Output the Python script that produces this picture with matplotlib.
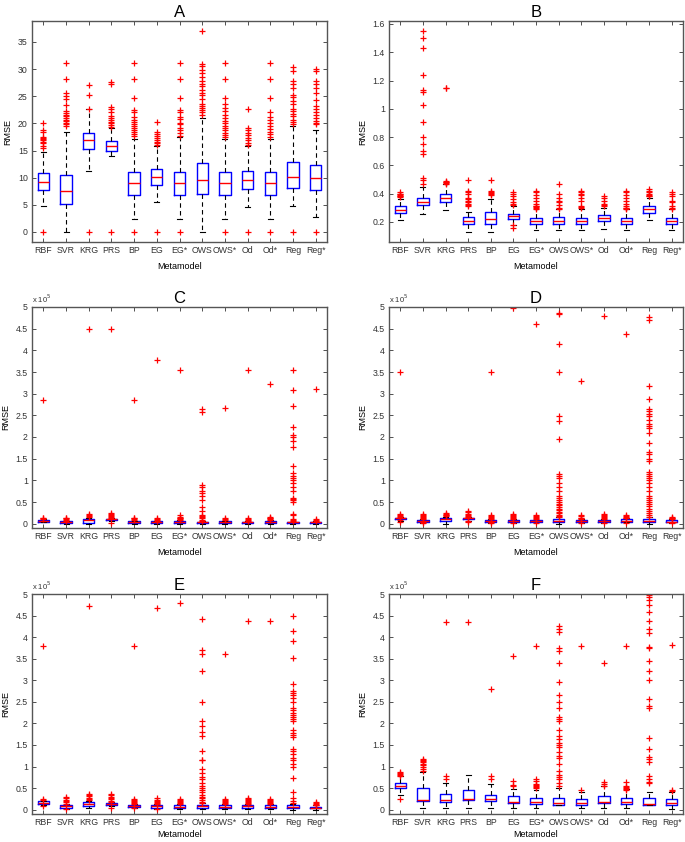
import matplotlib
matplotlib.use("Agg")
import matplotlib.pyplot as plt
from matplotlib.ticker import FuncFormatter

plt.rcParams['font.family'] = ['Liberation Sans', 'DejaVu Sans']

labels = ["RBF", "SVR", "KRG", "PRS", "BP", "EG", "EG*", "OWS", "OWS*", "Od", "Od*", "Reg", "Reg*"]

# ---- panel A ----
a_med = [9.14, 7.55, 16.9, 15.8, 8.96, 10.1, 8.96, 9.63, 8.96, 9.63, 8.96, 10.2, 9.94]
a_q1 = [7.67, 5.15, 15.2, 15.0, 6.75, 8.6, 6.75, 7.05, 6.87, 8.0, 6.75, 8.16, 7.7]
a_q3 = [10.86, 10.4, 18.2, 16.8, 11.0, 11.6, 11.1, 12.7, 11.05, 11.3, 11.0, 12.9, 12.3]
a_lo = [4.8, 0.0, 11.2, 13.9, 2.3, 5.6, 2.3, 0.0, 2.3, 4.6, 2.3, 4.8, 2.8]
a_hi = [14.8, 18.4, 22.6, 19.2, 17.2, 15.8, 17.5, 20.9, 17.2, 15.8, 17.2, 19.6, 18.7]
a_out = [
    [0, 15.4, 15.9, 16.3, 16.6, 16.9, 17.1, 17.3, 17.5, 18.4, 18.8, 20.1],
    [19.5, 19.8, 20.1, 20.4, 20.6, 21.0, 21.3, 21.5, 21.9, 22.2, 23.3, 24.4, 25.1, 25.5, 28.2, 31.1],
    [0, 22.7, 25.3, 27.1],
    [0, 19.4, 19.7, 20.0, 20.3, 20.6, 21.0, 21.4, 22.0, 22.6, 23.0, 27.3, 27.6],
    [0, 17.6, 18.0, 18.4, 18.8, 19.2, 19.6, 19.9, 20.3, 20.7, 21.2, 22.0, 22.4, 24.7, 28.2, 31.1],
    [0, 16.0, 16.3, 16.6, 17.0, 17.3, 17.6, 18.0, 18.5, 20.3],
    [0, 17.6, 18.3, 18.7, 19.2, 19.8, 20.1, 20.8, 21.2, 22.0, 22.4, 24.7, 28.2, 31.1],
    [21.5, 22.0, 22.4, 22.8, 23.2, 23.6, 24.4, 25.2, 25.6, 26.2, 26.8, 27.3, 27.8, 28.5, 29.2, 29.8, 30.5, 31.0, 37.0],
    [0, 17.5, 17.9, 18.3, 18.7, 19.1, 19.6, 20.0, 20.5, 21.0, 21.6, 22.2, 22.9, 23.6, 24.7, 28.2, 31.1],
    [0, 16.0, 16.4, 16.9, 17.3, 17.8, 18.2, 18.7, 19.2, 22.7],
    [0, 17.5, 18.0, 18.5, 19.0, 19.6, 20.0, 20.6, 21.2, 22.0, 24.7, 28.2, 31.1],
    [0, 19.9, 20.2, 20.6, 21.4, 21.8, 22.3, 22.7, 23.5, 24.2, 24.8, 25.3, 26.5, 27.3, 27.8, 29.6, 30.4],
    [0, 19.8, 20.1, 20.5, 21.0, 21.6, 22.0, 22.6, 23.2, 24.3, 25.5, 26.6, 27.3, 27.8, 29.6, 30.1],
]

# ---- panel B ----
b_med = [0.287, 0.341, 0.369, 0.209, 0.221, 0.24, 0.207, 0.207, 0.207, 0.226, 0.207, 0.289, 0.207]
b_q1 = [0.264, 0.318, 0.341, 0.186, 0.188, 0.221, 0.184, 0.184, 0.184, 0.205, 0.184, 0.266, 0.184]
b_q3 = [0.311, 0.369, 0.40, 0.235, 0.27, 0.259, 0.231, 0.235, 0.231, 0.247, 0.231, 0.313, 0.231]
b_lo = [0.212, 0.259, 0.282, 0.129, 0.129, 0.18, 0.141, 0.141, 0.141, 0.153, 0.141, 0.216, 0.141]
b_hi = [0.36, 0.447, 0.47, 0.27, 0.36, 0.31, 0.29, 0.29, 0.29, 0.30, 0.29, 0.37, 0.29]
b_out = [
    [0.375, 0.38, 0.385, 0.39, 0.395, 0.40, 0.41],
    [0.47, 0.50, 0.51, 0.68, 0.70, 0.75, 0.80, 0.91, 1.03, 1.12, 1.13, 1.24, 1.43, 1.50, 1.55],
    [0.47, 0.475, 0.48, 0.485, 0.49, 1.145, 1.15],
    [0.31, 0.32, 0.33, 0.34, 0.35, 0.36, 0.37, 0.40, 0.41, 0.42, 0.50],
    [0.39, 0.40, 0.405, 0.41, 0.42, 0.50],
    [0.16, 0.175, 0.32, 0.33, 0.34, 0.36, 0.38, 0.40, 0.41],
    [0.29, 0.30, 0.305, 0.31, 0.315, 0.33, 0.35, 0.37, 0.39, 0.41, 0.42],
    [0.29, 0.30, 0.32, 0.34, 0.35, 0.37, 0.40, 0.47],
    [0.30, 0.305, 0.31, 0.35, 0.37, 0.39, 0.40, 0.41, 0.42],
    [0.31, 0.32, 0.33, 0.35, 0.37, 0.38],
    [0.29, 0.295, 0.30, 0.31, 0.33, 0.35, 0.37, 0.39, 0.41, 0.42],
    [0.38, 0.385, 0.39, 0.40, 0.41, 0.42, 0.43],
    [0.29, 0.30, 0.31, 0.34, 0.35, 0.38, 0.40, 0.41],
]

# ---- panels C-F, values in units of 1e5 ----
SCALE = 1e5

c_med = [0.07, 0.04, 0.08, 0.10, 0.04, 0.04, 0.04, 0.03, 0.04, 0.03, 0.05, 0.03, 0.03]
c_q1 = [0.05, 0.02, 0.02, 0.08, 0.02, 0.02, 0.02, 0.02, 0.02, 0.02, 0.02, 0.02, 0.02]
c_q3 = [0.09, 0.06, 0.11, 0.11, 0.06, 0.06, 0.07, 0.05, 0.06, 0.05, 0.07, 0.05, 0.05]
c_lo = [0.03, 0.0, 0.0, 0.06, 0.0, 0.0, 0.0, 0.0, 0.0, 0.0, 0.0, 0.0, 0.0]
c_hi = [0.10, 0.07, 0.14, 0.13, 0.07, 0.07, 0.08, 0.06, 0.07, 0.06, 0.08, 0.05, 0.06]
c_out = [
    [0.10, 0.12, 0.13, 2.85],
    [0.07, 0.08, 0.10, 0.12, 0.14],
    [0.15, 0.18, 0.20, 0.22, 4.5],
    [0.02, 0.14, 0.16, 0.18, 0.20, 0.23, 0.25, 4.5],
    [0.08, 0.10, 0.12, 0.14, 2.85],
    [0.07, 0.09, 0.11, 0.13, 3.77],
    [0.08, 0.10, 0.12, 0.14, 0.16, 0.20, 3.55],
    [0.07, 0.09, 0.12, 0.15, 0.18, 0.20, 0.30, 0.38, 0.55, 0.65, 0.70, 0.75, 0.85, 0.90, 2.58, 2.65],
    [0.08, 0.10, 0.13, 2.68],
    [0.07, 0.09, 0.11, 0.13, 3.55],
    [0.08, 0.10, 0.12, 0.14, 0.16, 3.22],
    [0.06, 0.08, 0.10, 0.20, 0.22, 0.50, 0.55, 0.58, 0.60, 0.75, 0.85, 0.95, 1.00, 1.05, 1.10, 1.17,
     1.33, 1.77, 1.90, 2.00, 2.05, 2.22, 2.72, 3.08, 3.55],
    [0.06, 0.08, 0.10, 3.10],
]

d_med = [0.12, 0.07, 0.10, 0.12, 0.07, 0.06, 0.06, 0.07, 0.06, 0.06, 0.07, 0.06, 0.05]
d_q1 = [0.10, 0.05, 0.06, 0.10, 0.05, 0.04, 0.04, 0.03, 0.04, 0.04, 0.04, 0.03, 0.03]
d_q3 = [0.14, 0.09, 0.13, 0.14, 0.09, 0.09, 0.09, 0.11, 0.08, 0.09, 0.10, 0.10, 0.08]
d_lo = [0.06, 0.02, 0.0, 0.07, 0.02, 0.02, 0.02, 0.0, 0.02, 0.02, 0.03, 0.0, 0.02]
d_hi = [0.16, 0.11, 0.16, 0.16, 0.11, 0.11, 0.11, 0.15, 0.10, 0.11, 0.12, 0.15, 0.10]
d_out = [
    [0.05, 0.08, 0.16, 0.18, 0.20, 0.22, 3.5],
    [0.02, 0.04, 0.11, 0.13, 0.15, 0.17, 0.20, 0.22],
    [0.17, 0.19, 0.21, 0.23, 0.25],
    [0.03, 0.06, 0.16, 0.18, 0.20, 0.22, 0.26, 0.30],
    [0.02, 0.04, 0.11, 0.13, 0.15, 0.18, 0.20, 3.5],
    [0.02, 0.11, 0.13, 0.15, 0.17, 0.19, 0.22, 4.98],
    [0.02, 0.11, 0.13, 0.15, 0.18, 0.20, 4.6],
    [0.15, 0.18, 0.21, 0.25, 0.28, 0.31, 0.34, 0.38, 0.42, 0.46, 0.50, 0.55, 0.60, 0.65, 0.75, 0.85,
     0.95, 1.05, 1.10, 1.15, 1.95, 2.38, 2.48, 3.5, 4.15, 4.85, 4.87],
    [0.02, 0.10, 0.12, 0.14, 0.17, 0.20, 3.3],
    [0.02, 0.11, 0.13, 0.15, 0.17, 0.20, 0.22, 4.8],
    [0.02, 0.12, 0.14, 0.16, 0.18, 0.20, 4.37],
    [0.15, 0.20, 0.25, 0.30, 0.35, 0.40, 0.45, 0.50, 0.55, 0.60, 0.65, 0.75, 0.85, 0.95, 1.00, 1.05,
     1.10, 1.15, 1.20, 1.45, 1.50, 1.60, 1.65, 1.87, 2.10, 2.20, 2.25, 2.30, 2.40, 2.48, 2.52, 2.60,
     2.65, 2.88, 3.18, 4.70, 4.77],
    [0.02, 0.10, 0.12, 0.14, 0.16],
]

e_med = [0.16, 0.09, 0.13, 0.13, 0.09, 0.08, 0.07, 0.08, 0.07, 0.08, 0.07, 0.06, 0.05]
e_q1 = [0.13, 0.05, 0.08, 0.11, 0.06, 0.05, 0.05, 0.05, 0.05, 0.05, 0.05, 0.03, 0.03]
e_q3 = [0.19, 0.12, 0.17, 0.15, 0.11, 0.11, 0.10, 0.12, 0.10, 0.11, 0.10, 0.10, 0.07]
e_lo = [0.10, 0.02, 0.03, 0.08, 0.03, 0.02, 0.02, 0.02, 0.02, 0.02, 0.02, 0.0, 0.0]
e_hi = [0.21, 0.14, 0.21, 0.17, 0.13, 0.13, 0.13, 0.15, 0.13, 0.13, 0.13, 0.14, 0.10]
e_out = [
    [0.08, 0.22, 0.25, 3.8],
    [0.02, 0.14, 0.17, 0.20, 0.23, 0.27, 0.30],
    [0.22, 0.25, 0.28, 0.31, 0.34, 0.37, 4.73],
    [0.05, 0.18, 0.21, 0.24, 0.27, 0.30, 0.33, 0.37],
    [0.03, 0.14, 0.16, 0.18, 0.20, 0.22, 0.25, 3.8],
    [0.02, 0.14, 0.16, 0.18, 0.20, 0.23, 0.26, 4.68],
    [0.13, 0.15, 0.17, 0.20, 0.23, 0.25, 4.8],
    [0.15, 0.18, 0.22, 0.26, 0.30, 0.35, 0.40, 0.45, 0.50, 0.55, 0.62, 0.70, 0.75, 0.85, 0.95, 1.15,
     1.16, 1.35, 1.70, 1.80, 1.95, 2.05, 2.50, 3.22, 3.60, 3.70, 4.43],
    [0.13, 0.15, 0.18, 0.20, 0.23, 0.25, 3.62],
    [0.13, 0.15, 0.17, 0.20, 0.22, 0.25, 0.27, 4.38],
    [0.13, 0.15, 0.17, 0.20, 0.22, 0.25, 4.38],
    [0.15, 0.20, 0.27, 0.40, 0.74, 1.00, 1.05, 1.15, 1.20, 1.30, 1.35, 1.40, 1.68, 1.72, 1.78, 1.85,
     2.05, 2.10, 2.15, 2.20, 2.25, 2.30, 2.35, 2.50, 2.58, 2.65, 2.70, 2.75, 2.92, 3.52, 3.92, 4.15, 4.50],
    [0.10, 0.12, 0.14, 0.16, 0.18],
]

f_med = [0.554, 0.23, 0.23, 0.25, 0.25, 0.17, 0.17, 0.15, 0.15, 0.18, 0.17, 0.14, 0.15]
f_q1 = [0.50, 0.19, 0.18, 0.23, 0.19, 0.15, 0.14, 0.12, 0.12, 0.15, 0.14, 0.12, 0.12]
f_q3 = [0.615, 0.50, 0.36, 0.45, 0.35, 0.31, 0.28, 0.28, 0.25, 0.32, 0.28, 0.27, 0.25]
f_lo = [0.35, 0.05, 0.05, 0.05, 0.04, 0.03, 0.03, 0.10, 0.03, 0.04, 0.03, 0.10, 0.02]
f_hi = [0.77, 0.87, 0.62, 0.80, 0.59, 0.48, 0.46, 0.50, 0.42, 0.54, 0.48, 0.41, 0.41]
f_out = [
    [0.25, 0.78, 0.80, 0.82, 0.85, 0.87],
    [0.90, 0.95, 1.00, 1.03, 1.06, 1.10, 1.13, 1.16, 1.18],
    [0.70, 0.78, 4.35],
    [4.35],
    [0.70, 0.78, 2.80],
    [0.55, 0.57, 0.67, 3.57],
    [0.50, 0.53, 0.55, 0.57, 0.60, 0.66, 0.70, 3.80],
    [0.56, 0.62, 0.70, 0.75, 0.80, 0.90, 1.05, 1.20, 1.25, 1.33, 1.45, 1.50, 1.55, 1.65, 1.70, 1.85,
     2.05, 2.10, 2.15, 2.35, 2.50, 2.67, 2.95, 3.40, 3.67, 3.75, 4.13, 4.20, 4.25],
    [0.45, 3.80],
    [0.56, 0.60, 0.65, 3.40],
    [0.46, 0.48, 0.50, 0.52, 0.55, 0.65, 3.80],
    [0.62, 0.64, 0.72, 0.78, 1.10, 1.18, 1.22, 1.40, 1.67, 2.35, 2.40, 2.57, 3.00, 3.22, 3.45, 3.75,
     3.78, 4.10, 4.20, 4.38, 4.58, 4.75, 4.85, 4.93, 4.98],
    [0.44, 0.46, 3.82],
]


def make_stats(med, q1, q3, lo, hi, out, scale=1.0):
    stats = []
    for i in range(len(med)):
        stats.append(dict(med=med[i] * scale, q1=q1[i] * scale, q3=q3[i] * scale,
                          whislo=lo[i] * scale, whishi=hi[i] * scale,
                          fliers=[v * scale for v in out[i]]))
    return stats


W, H = 685, 842
fig = plt.figure(figsize=(W / 100, H / 100), dpi=100)


def add_ax(left, right, top, bottom):
    return fig.add_axes([left / W, 1 - bottom / H, (right - left) / W, (bottom - top) / H])


panels = [
    ("A", add_ax(32, 327, 21, 242), make_stats(a_med, a_q1, a_q3, a_lo, a_hi, a_out), False),
    ("B", add_ax(389, 683, 21, 242), make_stats(b_med, b_q1, b_q3, b_lo, b_hi, b_out), False),
    ("C", add_ax(32, 327, 307, 528), make_stats(c_med, c_q1, c_q3, c_lo, c_hi, c_out, SCALE), True),
    ("D", add_ax(389, 683, 307, 528), make_stats(d_med, d_q1, d_q3, d_lo, d_hi, d_out, SCALE), True),
    ("E", add_ax(32, 327, 594, 814), make_stats(e_med, e_q1, e_q3, e_lo, e_hi, e_out, SCALE), True),
    ("F", add_ax(389, 683, 594, 814), make_stats(f_med, f_q1, f_q3, f_lo, f_hi, f_out, SCALE), True),
]

positions = list(range(1, len(labels) + 1))

for title, ax, stats, scaled in panels:
    ax.bxp(stats, positions=positions, widths=0.5, capwidths=0.22, showfliers=True,
           boxprops=dict(color="#0000ff", linewidth=1.0),
           medianprops=dict(color="#ff0000", linewidth=1.0),
           whiskerprops=dict(color="black", linewidth=0.8, linestyle=(0, (4, 3))),
           capprops=dict(color="black", linewidth=0.8),
           flierprops=dict(marker="+", markeredgecolor="#ff0000", markersize=5,
                           markeredgewidth=0.9, linestyle="none"))
    ax.set_xlim(0.5, 13.5)
    ax.set_xticks(positions)
    ax.set_xticklabels(labels)
    if title == "A":
        ax.set_ylim(-1.85, 38.85)
        ax.set_yticks(range(0, 36, 5))
    elif title == "B":
        ax.set_ylim(0.058, 1.621)
        ax.set_yticks([0.2, 0.4, 0.6, 0.8, 1.0, 1.2, 1.4, 1.6])
        ax.yaxis.set_major_formatter(FuncFormatter(lambda v, p: f"{v:g}"))
    else:
        ax.set_ylim(-0.1 * SCALE, 5 * SCALE)
        ax.set_yticks([k * 0.5 * SCALE for k in range(11)])
        ax.yaxis.set_major_formatter(FuncFormatter(lambda v, p: f"{v / SCALE:g}"))
        ax.text(0.0, 1.01, r"x 10$^5$", transform=ax.transAxes, fontsize=5.5,
                ha="left", va="bottom", color="#333333")
    bottom_row = title in ("E", "F")
    ax.set_title(title, fontsize=12, pad=3)
    ax.set_ylabel("RMSE", fontsize=6.5, labelpad=4)
    ax.set_xlabel("Metamodel", fontsize=6.5, labelpad=2 if bottom_row else 5)
    ax.tick_params(direction="in", top=True, right=True, length=3, width=0.6,
                   labelsize=6.3, pad=3, colors="#333333")
    for sp in ax.spines.values():
        sp.set_color("#555555")
        sp.set_linewidth(1.0)

fig.savefig("out.png", dpi=100)
